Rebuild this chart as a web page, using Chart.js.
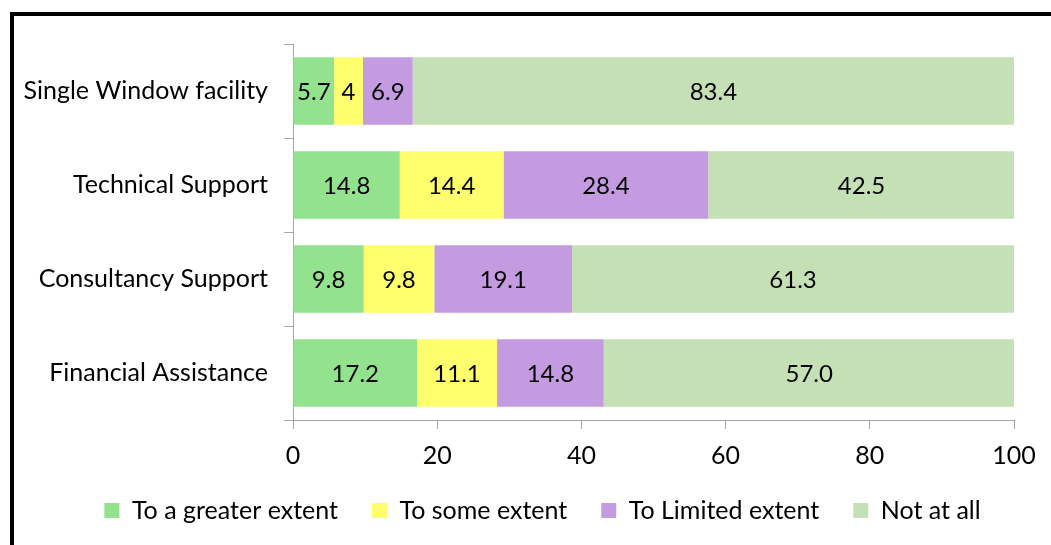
<!DOCTYPE html>
<html>
<head>
<meta charset="utf-8">
<script src="https://cdn.jsdelivr.net/npm/chart.js@4/dist/chart.umd.min.js"></script>
<style>
  html, body { margin: 0; padding: 0; background: #fff; overflow: hidden; }
  #wrap { position: relative; width: 1051px; height: 545px; }
  #frame { position: absolute; left: 10px; top: 12px; width: 1100px; height: 600px;
           border-left: 4px solid #000; border-top: 4px solid #000; pointer-events: none; }
  canvas { position: absolute; left: 0; top: 0; }
</style>
</head>
<body>
<div id="wrap">
  <canvas id="chart" width="1051" height="545"></canvas>
  <div id="frame"></div>
</div>
<script>
// Support categories, top to bottom
const categories = ['Single Window facility', 'Technical Support', 'Consultancy Support', 'Financial Assistance'];

// Share of respondents (%) per support type
const greaterExtent = ['5.7', '14.8', '9.8', '17.2'];
const someExtent    = ['4', '14.4', '9.8', '11.1'];
const limitedExtent = ['6.9', '28.4', '19.1', '14.8'];
const notAtAll      = ['83.4', '42.5', '61.3', '57.0'];

const xTicks = [0, 20, 40, 60, 80, 100];

const FONT = 'Lato, "Open Sans", sans-serif';
const FONT_SIZE = 25;
const AXIS_GREY = '#A6A6A6';

// Writes each segment's value in the middle of its bar
const segmentLabels = {
  id: 'segmentLabels',
  afterDatasetsDraw(chart) {
    const ctx = chart.ctx;
    ctx.save();
    ctx.font = '24px ' + FONT;
    ctx.fillStyle = '#000';
    ctx.textAlign = 'center';
    ctx.textBaseline = 'middle';
    chart.data.datasets.forEach((ds, i) => {
      const meta = chart.getDatasetMeta(i);
      meta.data.forEach((bar, j) => {
        const p = bar.getProps(['x', 'y', 'base'], true);
        ctx.fillText(String(ds.data[j]), (p.x + p.base) / 2, p.y + 1);
      });
    });
    ctx.restore();
  }
};

new Chart(document.getElementById('chart'), {
  type: 'bar',
  data: {
    labels: categories,
    datasets: [
      { label: 'To a greater extent', data: greaterExtent, backgroundColor: '#92E28E' },
      { label: 'To some extent',      data: someExtent,    backgroundColor: '#FFFF6E' },
      { label: 'To Limited extent',   data: limitedExtent, backgroundColor: '#C49BE0' },
      { label: 'Not at all',          data: notAtAll,      backgroundColor: '#C6E0B5' }
    ]
  },
  options: {
    indexAxis: 'y',
    responsive: false,
    animation: false,
    devicePixelRatio: 1,
    layout: { padding: { top: 44, left: 10, right: -24, bottom: 12 } },
    datasets: { bar: { barPercentage: 0.72, categoryPercentage: 1.0, borderWidth: 0 } },
    scales: {
      x: {
        stacked: true,
        min: 0, max: 100,
        afterBuildTicks(scale) { scale.ticks = xTicks.map(v => ({ value: v })); },
        afterFit(scale) { scale.height = 44; scale.paddingRight = 37; },
        grid: { drawOnChartArea: false, tickLength: 9, color: AXIS_GREY, lineWidth: 1 },
        border: { display: true, color: AXIS_GREY, width: 1 },
        ticks: { color: '#000', font: { family: FONT, size: FONT_SIZE }, padding: 12, maxRotation: 0 }
      },
      y: {
        stacked: true,
        afterFit(scale) { scale.width = 283; },
        grid: { offset: true, drawOnChartArea: false, tickLength: 9, color: AXIS_GREY, lineWidth: 1 },
        border: { display: true, color: AXIS_GREY, width: 1 },
        ticks: { color: '#000', font: { family: FONT, size: FONT_SIZE }, padding: 16 }
      }
    },
    plugins: {
      legend: {
        position: 'bottom',
        labels: {
          boxWidth: 15, boxHeight: 15, padding: 34,
          color: '#000', font: { family: FONT, size: FONT_SIZE }
        }
      },
      tooltip: { enabled: false }
    }
  },
  plugins: [segmentLabels]
});
</script>
</body>
</html>
